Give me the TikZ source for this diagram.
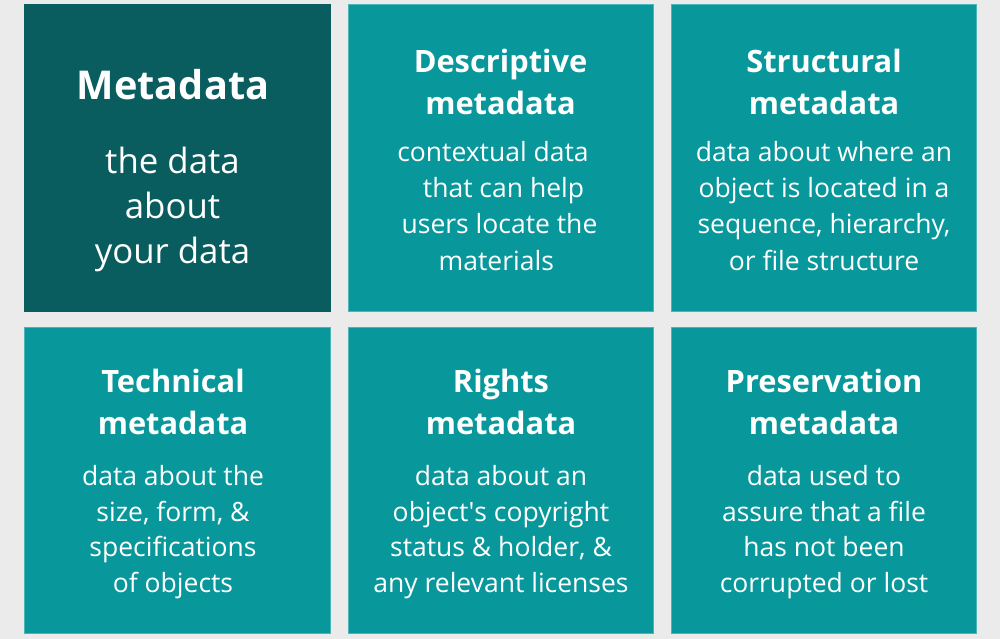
\documentclass[tikz,border=0pt]{standalone}
\usepackage{fontspec}
\setmainfont{Open Sans}
\definecolor{bg}{HTML}{EBEBEB}
\definecolor{darkteal}{HTML}{0A5D5E}
\definecolor{teal}{HTML}{08989B}
\definecolor{tealedge}{HTML}{4DB5B7}
\begin{document}
\begin{tikzpicture}[x=1pt,y=-1pt,
  tile/.style={fill=teal,draw=tealedge,line width=0.8pt},
  darktile/.style={fill=darkteal,draw=darkteal,line width=0.8pt},
  head/.style={anchor=base,inner sep=0pt,text=white,font=\fontsize{30.8}{36}\selectfont\bfseries},
  body/.style={anchor=base,inner sep=0pt,text=white,font=\fontsize{26.5}{32}\selectfont},
  bigtitle/.style={anchor=base,inner sep=0pt,text=white,font=\fontsize{39.7}{46}\selectfont\bfseries},
  bigbody/.style={anchor=base,inner sep=0pt,text=white,font=\fontsize{34.8}{40}\selectfont}]
\fill[bg] (0,0) rectangle (1000,639);
\useasboundingbox (0,0) rectangle (1000,639);
% tiles
\draw[darktile] (24.5,4.5) rectangle (330,311);
\draw[tile] (348,4.5) rectangle (653,311);
\draw[tile] (671,4.5) rectangle (976.5,311);
\draw[tile] (24.5,327) rectangle (330,633.5);
\draw[tile] (348,327) rectangle (653,633.5);
\draw[tile] (671,327) rectangle (976.5,633.5);
% tile 1
\node[bigtitle] (m1) at (173,99.8) {Metadata};
\node[bigbody] (m2) at (172.5,173) {the data};
\node[bigbody] (m3) at (172.5,218) {about};
\node[bigbody] (m4) at (172.5,263) {your data};
% tile 2
\node[head] (d1) at (500.5,72.7) {Descriptive};
\node[head] (d2) at (500.5,115) {metadata};
\node[body] (d3) at (493,161.5) {contextual data};
\node[body] (d4) at (503.5,197.7) {that can help};
\node[body] (d5) at (499.5,233.8) {users locate the};
\node[body] (d6) at (496.3,270) {materials};
% tile 3
\node[head] (s1) at (824,72.7) {Structural};
\node[head] (s2) at (824,115) {metadata};
\node[body] (s3) at (824,161.5) {data about where an};
\node[body] (s4) at (824,197.7) {object is located in a};
\node[body] (s5) at (824,233.8) {sequence, hierarchy,};
\node[body] (s6) at (824,270) {or file structure};
% tile 4
\node[head] (t1) at (173,392.7) {Technical};
\node[head] (t2) at (173,434) {metadata};
\node[body] (t3) at (173,485) {data about the};
\node[body] (t4) at (173,521) {size, form, \&};
\node[body] (t5) at (173,556.5) {specifications};
\node[body] (t6) at (173,592) {of objects};
% tile 5
\node[head] (r1) at (501,392.7) {Rights};
\node[head] (r2) at (501,434) {metadata};
\node[body] (r3) at (501,485) {data about an};
\node[body] (r4) at (501,521) {object\textquotesingle s copyright};
\node[body] (r5) at (501,556.5) {status \& holder, \&};
\node[body] (r6) at (501,592) {any relevant licenses};
% tile 6
\node[head] (p1) at (824,392.7) {Preservation};
\node[head] (p2) at (824,434) {metadata};
\node[body] (p3) at (824,485) {data used to};
\node[body] (p4) at (824,521) {assure that a file};
\node[body] (p5) at (824,556.5) {has not been};
\node[body] (p6) at (824,592) {corrupted or lost};
\end{tikzpicture}
\end{document}
